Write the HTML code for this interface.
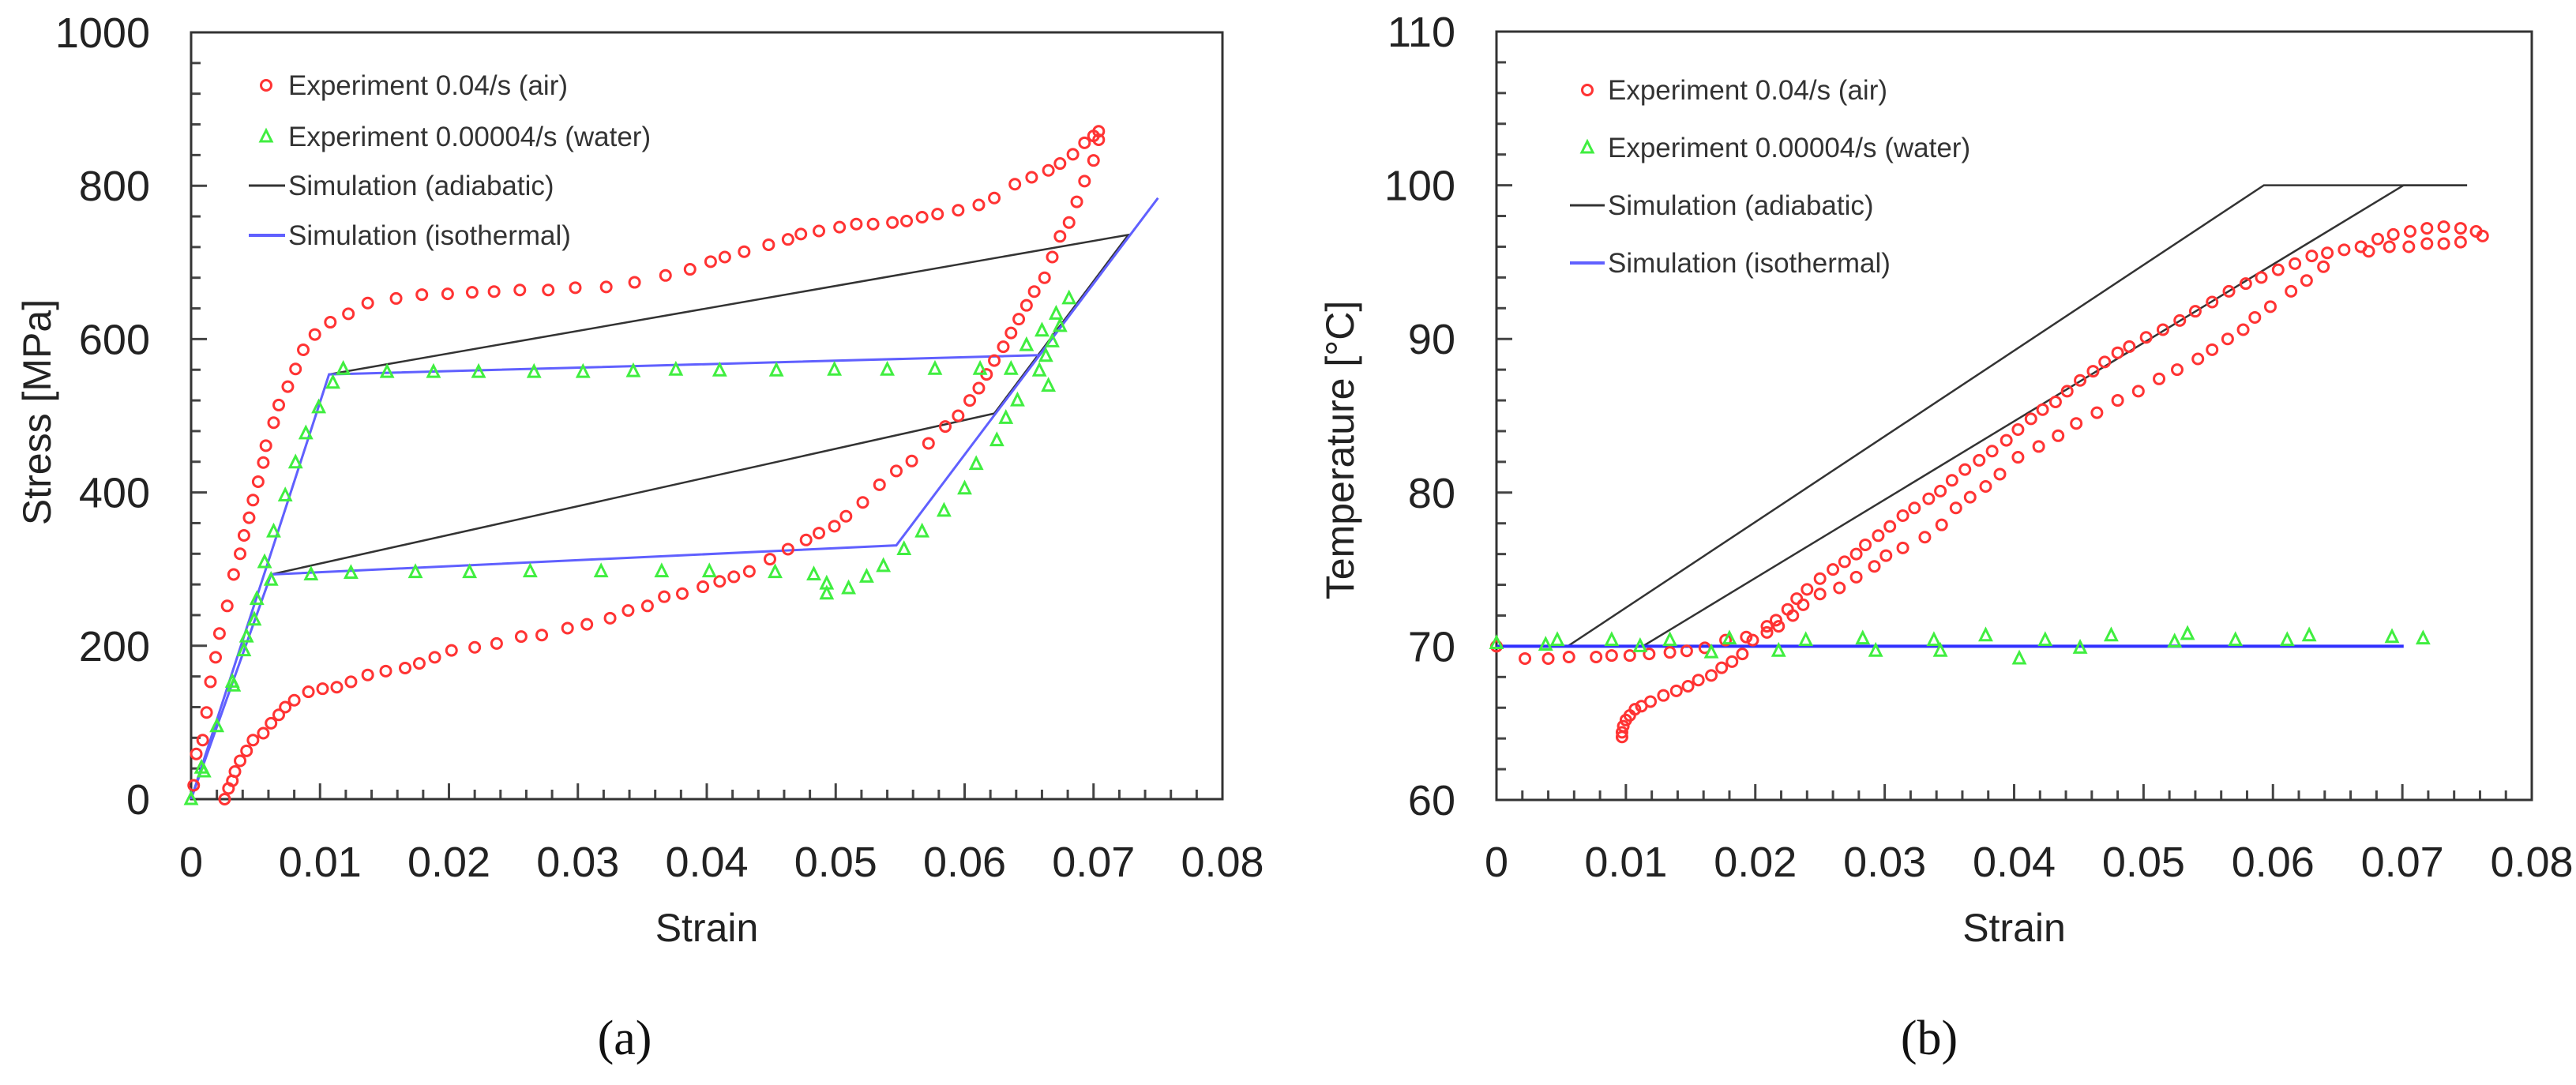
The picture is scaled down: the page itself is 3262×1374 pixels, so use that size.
<!DOCTYPE html>
<html><head><meta charset="utf-8"><style>
html,body{margin:0;padding:0;background:#fff;}
svg{display:block;font-family:"Liberation Sans",Arial,sans-serif;}
</style></head><body>
<svg id="fig" width="3262" height="1374" viewBox="0 0 3262 1374" xmlns="http://www.w3.org/2000/svg"></svg>
<script>
// ---------- Data: panel (a) stress-strain ----------
const airStrainA = [0.0002,0.0004,0.0009,0.0012,0.0015,0.0019,0.0022,0.0028,0.0033,0.0038,0.0041,0.0045,0.0048,0.0052,0.0056,0.0058,0.0064,0.0068,0.0075,0.0081,0.0087,0.0096,0.0108,0.0122,0.0137,0.0159,0.0179,0.0199,0.0218,0.0235,0.0255,0.0277,0.0298,0.0322,0.0344,0.0368,0.0387,0.0403,0.0414,0.0429,0.0448,0.0463,0.0473,0.0487,0.0503,0.0516,0.0529,0.0544,0.0555,0.0567,0.0579,0.0595,0.0611,0.0623,0.0639,0.0652,0.0665,0.0674,0.0684,0.0693,0.0700,0.0704,
0.0704,0.0700,0.0693,0.0687,0.0681,0.0674,0.0668,0.0662,0.0654,0.0648,0.0642,0.0636,0.0630,0.0623,0.0617,0.0611,0.0604,0.0595,0.0585,0.0572,0.0559,0.0547,0.0534,0.0521,0.0508,0.0499,0.0487,0.0477,0.0463,0.0449,0.0433,0.0421,0.0410,0.0397,0.0381,0.0367,0.0354,0.0339,0.0325,0.0307,0.0292,0.0272,0.0256,0.0237,0.0220,0.0202,0.0189,0.0177,0.0166,0.0151,0.0137,0.0124,0.0113,0.0102,0.0091,0.0080,0.0073,0.0068,0.0062,0.0056,0.0048,0.0043,0.0038,0.0034,0.0032,0.0029,0.0026];
const airStressA = [18,59,77,113,153,185,216,252,293,320,344,367,390,414,439,461,491,514,538,561,586,606,622,633,647,653,658,659,661,662,664,664,667,668,674,683,691,701,707,714,723,730,737,741,746,750,750,752,754,759,763,768,775,784,802,811,820,829,841,856,865,871,
860,833,806,779,752,734,707,680,662,644,626,608,590,572,554,536,520,500,486,464,441,428,410,387,369,356,347,338,326,313,297,290,284,277,268,264,252,246,236,228,223,214,212,203,198,194,185,177,171,167,162,153,146,144,140,129,120,110,99,86,77,63,50,36,24,14,0];
const waterStrainA = [0,0.0008,0.0010,0.0020,0.0032,0.0033,0.0041,0.0043,0.0049,0.0051,0.0057,0.0062,0.0064,0.0073,0.0081,0.0089,0.0099,0.0110,0.0118,0.0152,0.0188,0.0223,0.0266,0.0304,0.0343,0.0376,0.0410,0.0454,0.0499,0.0540,0.0577,0.0612,0.0636,0.0658,0.0648,0.0660,0.0668,0.0671,0.0674,0.0681,0.0663,0.0665,0.0641,0.0632,0.0625,0.0609,0.0600,0.0584,0.0567,0.0553,0.0537,0.0524,0.0510,0.0493,0.0493,0.0483,0.0453,0.0402,0.0365,0.0318,0.0263,0.0216,0.0174,0.0124,0.0093];
const waterStressA = [0,41,36,95,153,148,194,212,234,261,309,286,349,396,439,477,511,543,561,557,557,557,557,557,558,560,559,559,560,560,561,561,561,559,592,611,597,633,617,653,578,539,520,497,468,437,405,376,349,326,304,290,275,268,281,293,296,297,297,297,297,296,296,295,293];
const isoStrainA = [0,0.0107,0.0658,0.0750,0.0547,0.0062,0];
const isoStressA = [0,554,579,784,331,293,0];
const adiStrainA = [0,0.0107,0.0727,0.0623,0.0062,0];
const adiStressA = [0,554,736,503,293,0];
const xTicksA = ["0","0.01","0.02","0.03","0.04","0.05","0.06","0.07","0.08"];
const yTicksA = ["0","200","400","600","800","1000"];

// ---------- Data: panel (b) temperature-strain ----------
const airStrainB = [0,0.0022,0.0040,0.0056,0.0077,0.0089,0.0103,0.0118,0.0134,0.0147,0.0161,
0.0177,0.0193,0.0209,0.0216,0.0225,0.0232,0.0240,0.0250,0.0260,0.0269,0.0278,0.0285,0.0295,0.0304,0.0314,0.0323,0.0334,0.0343,0.0352,0.0362,0.0373,0.0383,0.0394,0.0403,0.0413,0.0422,0.0432,0.0441,0.0451,0.0461,0.0470,0.0480,0.0489,0.0502,0.0515,0.0528,0.0540,0.0553,0.0566,0.0579,0.0591,0.0604,0.0617,0.0630,0.0642,0.0655,0.0668,0.0681,0.0693,0.0706,0.0719,0.0732,0.0745,0.0757,0.0762,
0.0745,0.0732,0.0719,0.0705,0.0690,0.0674,0.0639,0.0626,0.0614,0.0598,0.0586,0.0577,0.0565,0.0553,0.0542,0.0526,0.0512,0.0496,0.0480,0.0464,0.0448,0.0434,0.0419,0.0403,0.0389,0.0378,0.0366,0.0355,0.0344,0.0331,0.0314,0.0301,0.0292,0.0278,0.0265,0.0250,0.0237,0.0229,0.0218,0.0209,0.0198,0.0190,0.0182,0.0174,0.0166,0.0156,0.0148,0.0139,0.0129,0.0119,0.0112,0.0107,0.0103,0.0100,0.0098,0.0097,0.0097];
const airTempB = [70,69.2,69.2,69.3,69.3,69.4,69.4,69.5,69.6,69.7,69.9,
70.4,70.6,71.3,71.7,72.4,73.1,73.7,74.4,75.0,75.5,76.0,76.6,77.2,77.8,78.5,79.0,79.6,80.1,80.8,81.5,82.1,82.7,83.4,84.1,84.8,85.4,85.9,86.6,87.3,87.9,88.5,89.1,89.5,90.1,90.6,91.2,91.8,92.4,93.1,93.6,94.0,94.5,94.9,95.4,95.6,95.8,96.0,96.5,96.8,97.0,97.2,97.3,97.2,97.0,96.7,
96.3,96.2,96.2,96.0,96.0,95.7,94.7,93.8,93.1,92.1,91.4,90.6,90.0,89.3,88.7,88.0,87.4,86.6,86.0,85.2,84.5,83.7,83.0,82.3,81.2,80.4,79.7,79.0,77.9,77.1,76.4,75.9,75.2,74.5,73.8,73.4,72.7,72.0,71.3,70.9,70.4,69.5,69.0,68.6,68.1,67.8,67.4,67.1,66.8,66.4,66.1,65.9,65.5,65.2,64.8,64.4,64.1];
const waterStrainB = [0,0.0038,0.0047,0.0089,0.0111,0.0134,0.0166,0.0180,0.0218,0.0239,0.0283,0.0293,0.0338,0.0343,0.0378,0.0404,0.0424,0.0451,0.0475,0.0524,0.0534,0.0571,0.0611,0.0628,0.0692,0.0716];
const waterTempB = [70.2,70.1,70.4,70.4,70.0,70.4,69.6,70.5,69.7,70.4,70.5,69.7,70.4,69.7,70.7,69.2,70.4,69.9,70.7,70.3,70.8,70.4,70.4,70.7,70.6,70.5];
const isoStrainB = [0,0.0701];
const isoTempB = [70,70];
const adi1StrainB = [0,0.0055,0.0593,0.0750];
const adi1TempB = [70,70,100,100];
const adi2StrainB = [0.0113,0.0701,0.0750];
const adi2TempB = [70,100,100];
const xTicksB = ["0","0.01","0.02","0.03","0.04","0.05","0.06","0.07","0.08"];
const yTicksB = ["60","70","80","90","100","110"];

const NS = "http://www.w3.org/2000/svg";
const fig = document.getElementById("fig");
function mk(tag, attrs, parent) {
  const e = document.createElementNS(NS, tag);
  for (const k in attrs) e.setAttribute(k, attrs[k]);
  (parent || fig).appendChild(e);
  return e;
}
function scale(d0, d1, p0, p1) { return v => p0 + (v - d0) / (d1 - d0) * (p1 - p0); }

function panel(cfg) {
  const g = mk("g", {});
  
  
  const X = scale(cfg.xmin, cfg.xmax, cfg.L, cfg.R);
  const Y = scale(cfg.ymin, cfg.ymax, cfg.B, cfg.T);
  const tg = mk("g", {stroke: "#444", "stroke-width": 3}, g);
  
  
  for (let i = 0; i <= 40; i++) {
    const v = cfg.xmin + i * (cfg.xmax - cfg.xmin) / 40;
    const len = i % 5 === 0 ? 20 : 12;
    mk("line", {x1: X(v), x2: X(v), y1: cfg.B, y2: cfg.B - len}, tg);
  }
  for (let i = 0; i <= 25; i++) {
    const v = cfg.ymin + i * (cfg.ymax - cfg.ymin) / 25;
    const len = i % 5 === 0 ? 20 : 12;
    mk("line", {x1: cfg.L, x2: cfg.L + len, y1: Y(v), y2: Y(v)}, tg);
  }
  const fr = mk("rect", {x: cfg.L, y: cfg.T, width: cfg.R - cfg.L, height: cfg.B - cfg.T, fill: "none", stroke: "#333", "stroke-width": 3}, g);
  
  
  cfg.xTicks.forEach((t, i) => {
    const v = cfg.xmin + i * (cfg.xmax - cfg.xmin) / (cfg.xTicks.length - 1);
    const e = mk("text", {x: X(v), y: 1110, "font-size": 54, "text-anchor": "middle", fill: "#222"}, g);
    e.textContent = t;
    
    
  });
  cfg.yTicks.forEach((t, i) => {
    const v = cfg.ymin + i * (cfg.ymax - cfg.ymin) / (cfg.yTicks.length - 1);
    const e = mk("text", {x: cfg.L - 52, y: Y(v) + 19, "font-size": 54, "text-anchor": "end", fill: "#222"}, g);
    e.textContent = t;
    
    
  });
  const xt = mk("text", {x: (cfg.L + cfg.R) / 2, y: 1192, "font-size": 50, "text-anchor": "middle", fill: "#222"}, g);
  xt.textContent = "Strain";
  
  
  const yt = mk("text", {x: 0, y: 0, "font-size": 50, "text-anchor": "middle", fill: "#222", transform: `translate(${cfg.ytX},${cfg.ytY}) rotate(-90)`}, g);
  yt.textContent = cfg.yTitle;
  
  
  const cap = mk("text", {x: cfg.capX, y: 1335, "font-size": 62, "text-anchor": "middle", fill: "#111", "font-family": "Liberation Serif, serif"}, g);
  cap.textContent = cfg.caption;
  
  

  function line(xs, ys, color, w, name) {
    const p = mk("polyline", {points: xs.map((x, i) => X(x) + "," + Y(ys[i])).join(" "), fill: "none", stroke: color, "stroke-width": w}, g);
    
    
  }
  function circles(xs, ys, name) {
    const sg = mk("g", {fill: "none", stroke: "#ff3333", "stroke-width": 3}, g);
    
    
    xs.forEach((x, i) => {
      const c = mk("circle", {cx: X(x), cy: Y(ys[i]), r: 6.5}, sg);
      
      
    });
  }
  function tris(xs, ys, name) {
    const sg = mk("g", {fill: "none", stroke: "#40ee40", "stroke-width": 3}, g);
    
    
    xs.forEach((x, i) => {
      const cx = X(x), cy = Y(ys[i]);
      const t = mk("polygon", {points: `${cx},${cy - 8} ${cx - 7},${cy + 6} ${cx + 7},${cy + 6}`}, sg);
      
      
    });
  }
  cfg.draw(line, circles, tris);

  const lg = mk("g", {}, g);
  
  
  const labels = ["Experiment 0.04/s (air)", "Experiment 0.00004/s (water)", "Simulation (adiabatic)", "Simulation (isothermal)"];
  labels.forEach((lab, i) => {
    const y = cfg.legY[i];
    const en = mk("g", {}, lg);
    
    
    if (i === 0) mk("circle", {cx: cfg.legMX, cy: y, r: 6.5, fill: "none", stroke: "#ff3333", "stroke-width": 3}, en);
    if (i === 1) mk("polygon", {points: `${cfg.legMX},${y - 8} ${cfg.legMX - 7},${y + 6} ${cfg.legMX + 7},${y + 6}`, fill: "none", stroke: "#40ee40", "stroke-width": 3}, en);
    if (i === 2) mk("line", {x1: cfg.legMX - 22, x2: cfg.legTX - 4, y1: y, y2: y, stroke: "#333", "stroke-width": 3}, en);
    if (i === 3) mk("line", {x1: cfg.legMX - 22, x2: cfg.legTX - 4, y1: y, y2: y, stroke: "#6060ff", "stroke-width": 4}, en);
    const t = mk("text", {x: cfg.legTX, y: y + 12, "font-size": 35, fill: "#333"}, en);
    t.textContent = lab;
  });
}

panel({
  name: "stress-strain-panel", L: 242, R: 1548, T: 41, B: 1012,
  xmin: 0, xmax: 0.08, ymin: 0, ymax: 1000,
  xTicks: xTicksA, yTicks: yTicksA, yTitle: "Stress [MPa]", ytX: 64, ytY: 522,
  caption: "(a)", capX: 791, legY: [108, 173, 235, 298], legMX: 337, legTX: 365,
  draw: (line, circles, tris) => {
    line(adiStrainA, adiStressA, "#333", 2.5, "adiabatic-line");
    line(isoStrainA, isoStressA, "#6060ff", 3, "isothermal-line");
    circles(airStrainA, airStressA, "air-series");
    tris(waterStrainA, waterStressA, "water-series");
  }
});
panel({
  name: "temperature-strain-panel", L: 1895, R: 3206, T: 40, B: 1013,
  xmin: 0, xmax: 0.08, ymin: 60, ymax: 110,
  xTicks: xTicksB, yTicks: yTicksB, yTitle: "Temperature [°C]", ytX: 1714, ytY: 570,
  caption: "(b)", capX: 2443, legY: [114, 187, 260, 333], legMX: 2010, legTX: 2036,
  draw: (line, circles, tris) => {
    line(adi1StrainB, adi1TempB, "#333", 2.5, "adiabatic-line-1");
    line(adi2StrainB, adi2TempB, "#333", 2.5, "adiabatic-line-2");
    line(isoStrainB, isoTempB, "#3030ff", 4, "isothermal-line");
    circles(airStrainB, airTempB, "air-series");
    tris(waterStrainB, waterTempB, "water-series");
  }
});
</script>
</body></html>
